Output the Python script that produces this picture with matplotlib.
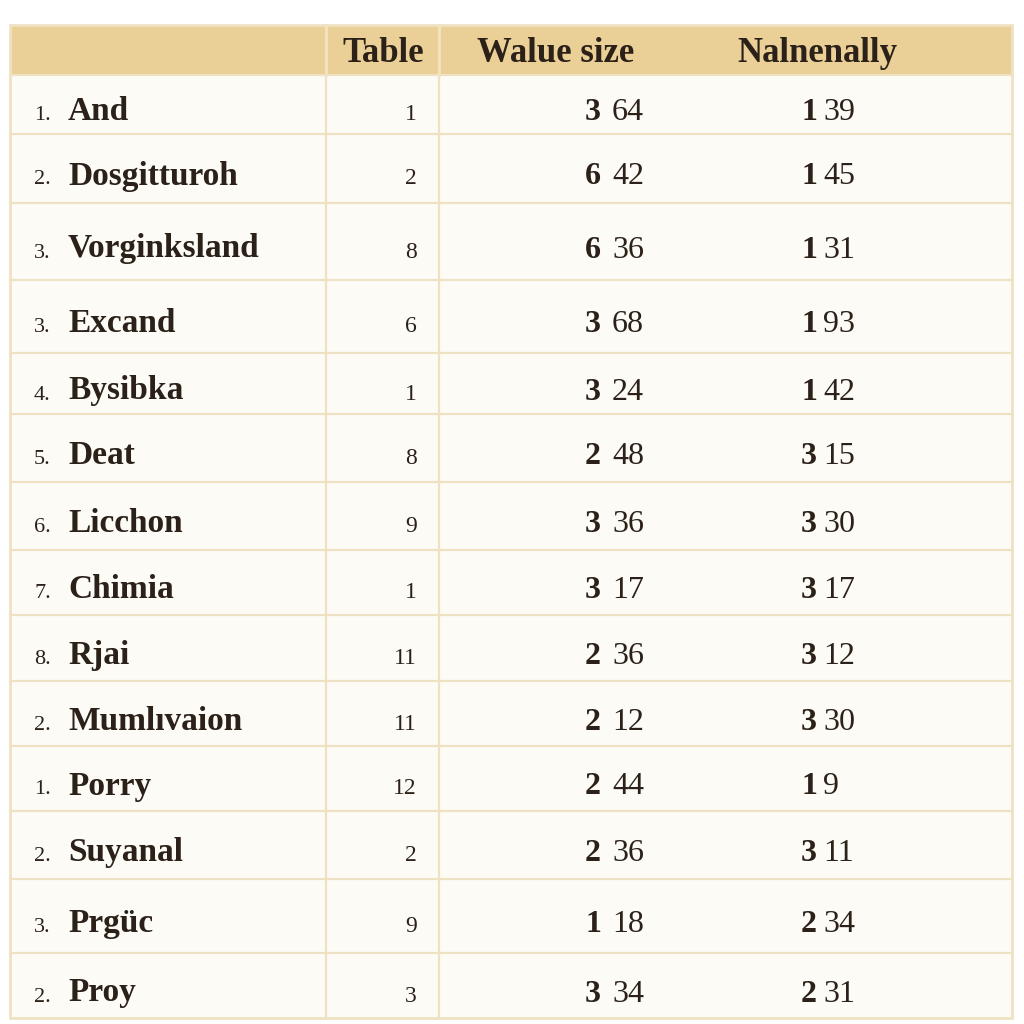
import matplotlib.pyplot as plt
from matplotlib.patches import Rectangle

# table content
headers = ["Table", "Walue size", "Nalnenally"]
prefixes = ["1.", "2.", "3.", "3.", "4.", "5.", "6.", "7.", "8.", "2.", "1.", "2.", "3.", "2."]
names = ["And", "Dosgitturoh", "Vorginksland", "Excand", "Bysibka", "Deat", "Licchon",
         "Chimia", "Rjai", "Mumlıvaion", "Porry", "Suyanal", "Prgüc", "Proy"]
table_vals = ["1", "2", "8", "6", "1", "8", "9", "1", "11", "11", "12", "2", "9", "3"]
value_major = ["3", "6", "6", "3", "3", "2", "3", "3", "2", "2", "2", "2", "1", "3"]
value_minor = ["64", "42", "36", "68", "24", "48", "36", "17", "36", "12", "44", "36", "18", "34"]
naln_major = ["1", "1", "1", "1", "1", "3", "3", "3", "3", "3", "1", "3", "2", "2"]
naln_minor = ["39", "45", "31", "93", "42", "15", "30", "17", "12", "30", "9", "11", "34", "31"]

# layout (pixel coords)
row_edges = [25, 75, 134, 203, 280, 353, 414, 482, 550, 615, 681, 746, 811, 879, 953, 1018]
x_left, x_c1, x_c2, x_right = 10, 326, 439, 1012

header_fill = "#EACF97"
cell_fill = "#FCFBF6"
line_col = "#EFE2C2"
text_col = "#2B2118"
serif = "Liberation Serif"

fig = plt.figure(figsize=(10.24, 10.24), dpi=100)
fig.patch.set_facecolor("white")
ax = fig.add_axes([0, 0, 1, 1])
ax.set_xlim(0, 1024)
ax.set_ylim(1024, 0)
ax.axis("off")

# background
ax.add_patch(Rectangle((x_left, row_edges[1]), x_right - x_left, row_edges[-1] - row_edges[1],
                       facecolor=cell_fill, edgecolor="none"))
ax.add_patch(Rectangle((x_left, row_edges[0]), x_right - x_left, row_edges[1] - row_edges[0],
                       facecolor=header_fill, edgecolor="none"))

# grid lines
for y in row_edges[1:-1]:
    ax.plot([x_left, x_right], [y, y], color=line_col, lw=1.6)
for x in [x_c1, x_c2]:
    ax.plot([x, x], [row_edges[0], row_edges[-1]], color=line_col, lw=1.6)
ax.add_patch(Rectangle((x_left, row_edges[0]), x_right - x_left, row_edges[-1] - row_edges[0],
                       facecolor="none", edgecolor=line_col, lw=2))
ax.plot([x_c1, x_c1], [row_edges[0], row_edges[1]], color="#F3E3C0", lw=2)
ax.plot([x_c2, x_c2], [row_edges[0], row_edges[1]], color="#F3E3C0", lw=2)

# header
hy = 62
ax.text(383, hy, headers[0], ha="center", va="baseline", fontsize=25, fontweight="bold",
        family=serif, color=text_col)
ax.text(556, hy, headers[1], ha="center", va="baseline", fontsize=25, fontweight="bold",
        family=serif, color=text_col)
ax.text(817, hy, headers[2], ha="center", va="baseline", fontsize=25, fontweight="bold",
        family=serif, color=text_col)

# rows
for i in range(len(names)):
    yb = (row_edges[i + 1] + row_edges[i + 2]) / 2 + 16
    ax.text(34, yb, prefixes[i], ha="left", va="baseline", fontsize=16,
            family=serif, color=text_col)
    ax.text(68, yb, names[i], ha="left", va="baseline", fontsize=24, fontweight="bold",
            family=serif, color=text_col)
    ax.text(417, yb, table_vals[i], ha="right", va="baseline", fontsize=17,
            family=serif, color=text_col)
    ax.text(601, yb, value_major[i], ha="right", va="baseline", fontsize=23, fontweight="bold",
            family=serif, color=text_col)
    ax.text(612, yb, value_minor[i], ha="left", va="baseline", fontsize=23,
            family=serif, color=text_col)
    ax.text(817, yb, naln_major[i], ha="right", va="baseline", fontsize=23, fontweight="bold",
            family=serif, color=text_col)
    ax.text(823, yb, naln_minor[i], ha="left", va="baseline", fontsize=23,
            family=serif, color=text_col)

plt.savefig("out.png", dpi=100, facecolor=fig.get_facecolor())
